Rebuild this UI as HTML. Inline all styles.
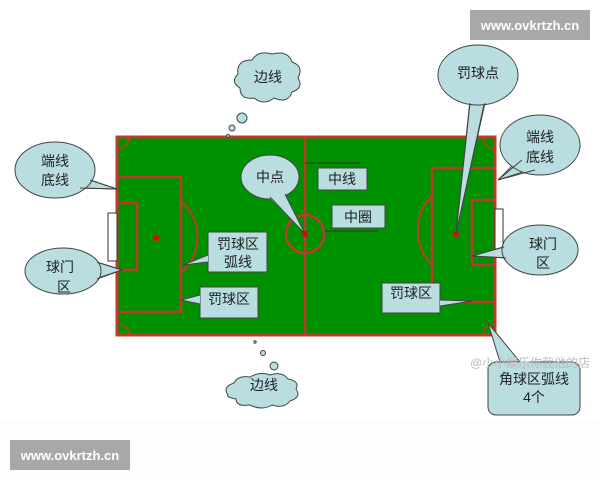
<!DOCTYPE html>
<html><head><meta charset="utf-8"><style>
body{margin:0;background:#fff;width:600px;height:480px;overflow:hidden}
text{font-family:"Liberation Sans","Noto Sans CJK SC",sans-serif;font-size:14px;fill:#222}
</style></head><body>
<svg width="600" height="480" xmlns="http://www.w3.org/2000/svg">
<rect x="0" y="420" width="600" height="60" fill="#fdfdfd"/>
<rect x="117" y="137" width="378" height="198" fill="#009100" stroke="#c0392b" stroke-width="3"/>
<line x1="305" y1="137" x2="305" y2="335" stroke="#c0392b" stroke-width="2.5"/>
<circle cx="305" cy="234" r="19" fill="none" stroke="#c0392b" stroke-width="2.5"/>
<circle cx="305" cy="234" r="3" fill="#e00"/>
<rect x="117" y="177" width="64" height="135" fill="none" stroke="#c0392b" stroke-width="2.5"/>
<rect x="117" y="203" width="20" height="67" fill="none" stroke="#c0392b" stroke-width="2.5"/>
<rect x="108" y="213" width="9" height="48" fill="#fff" stroke="#333" stroke-width="1"/>
<path d="M181 202 A32 40 0 0 1 181 272" fill="none" stroke="#c0392b" stroke-width="2"/>
<circle cx="156" cy="238" r="3" fill="#e00"/>
<rect x="432" y="168" width="63" height="134" fill="none" stroke="#c0392b" stroke-width="2.5"/>
<rect x="472" y="200" width="23" height="65" fill="none" stroke="#c0392b" stroke-width="2.5"/>
<rect x="495" y="209" width="8" height="42" fill="#fff" stroke="#333" stroke-width="1"/>
<path d="M432 196 A30 40 0 0 0 432 264" fill="none" stroke="#c0392b" stroke-width="2"/>
<circle cx="456" cy="234" r="3" fill="#e00"/>
<g fill="none" stroke="#c0392b" stroke-width="1.5">
<path d="M117 149 A12 12 0 0 0 129 137"/><path d="M117 323 A12 12 0 0 1 129 335"/>
<path d="M483 137 A12 12 0 0 0 495 149"/><path d="M483 335 A12 12 0 0 1 495 323"/></g>
<g fill="#b9dde0" stroke="#444" stroke-width="1">
<path d="M80 188 L117 189 L90 180 Z"/>
<ellipse cx="55" cy="170" rx="40" ry="28"/>
<path d="M80 188 L117 189 L90 180" fill="none"/>
<path d="M90 260 L122 270 L92 280 Z"/>
<ellipse cx="63" cy="271" rx="38" ry="23"/>
<path d="M97 262 L122 270 L97 279" fill="none"/>
<ellipse cx="270" cy="177" rx="29" ry="22"/>
<path d="M270 198 L305 234 L285 195 Z" stroke="none"/>
<path d="M270 197 L305 234 L285 194" fill="none"/>
<path d="M470 100 L456 234 L485 100 Z"/>
<ellipse cx="478" cy="75" rx="40" ry="30"/>
<path d="M470 103 L456 234 L485 103" fill="none"/>
<path d="M520 158 L498 180 L535 168 Z"/>
<ellipse cx="540" cy="145" rx="40" ry="30"/>
<path d="M522 160 L498 180 L535 170" fill="none"/>
<path d="M510 245 L472 256 L510 258 Z"/>
<ellipse cx="540" cy="250" rx="38" ry="25"/>
<path d="M504 247 L472 256 L506 258" fill="none"/>
<rect x="318" y="168" width="49" height="22"/>
<rect x="332" y="205" width="53" height="23"/>
<rect x="208" y="232" width="59" height="40"/>
<path d="M208 255 L183 265 L208 262"/>
<rect x="200" y="287" width="58" height="31"/>
<path d="M200 295 L181 300 L200 304"/>
<rect x="382" y="283" width="58" height="30"/>
<path d="M440 300 L472 301 L440 306"/>
<path d="M500 362 L488 323 L520 362 Z"/>
<rect x="488" y="362" width="92" height="53" rx="8"/>
<path d="M238 74 q-2-14 14-14 q6-10 20-6 q16-4 20 8 q12 4 6 16 q6 10-6 14 q-4 12-18 6 q-10 8-20 0 q-14 2-14-10 q-10-6-2-14z"/>
<path d="M228 395 q-6-8 6-12 q4-8 16-6 q10-6 20-2 q12-4 18 4 q12 2 8 10 q6 8-6 12 q-6 8-18 4 q-10 6-22 0 q-14 2-14-6 q-10-2-8-4z"/>
<circle cx="242" cy="118" r="5"/><circle cx="232" cy="128" r="3"/><circle cx="228" cy="136" r="1.5"/>
<circle cx="274" cy="366" r="4"/><circle cx="263" cy="353" r="2.5"/><circle cx="255" cy="342" r="1.2"/>
</g>
<line x1="305" y1="163" x2="360" y2="163" stroke="#333" stroke-width="1"/>
<line x1="325" y1="231" x2="378" y2="231" stroke="#333" stroke-width="1"/>
<text x="268" y="82" text-anchor="middle">边线</text>
<text x="55" y="166" text-anchor="middle">端线</text><text x="55" y="185" text-anchor="middle">底线</text>
<text x="60" y="272" text-anchor="middle">球门</text><text x="64" y="292" text-anchor="middle">区</text>
<text x="270" y="182" text-anchor="middle">中点</text>
<text x="342" y="184" text-anchor="middle">中线</text>
<text x="358" y="222" text-anchor="middle">中圈</text>
<text x="238" y="249" text-anchor="middle">罚球区</text><text x="238" y="267" text-anchor="middle">弧线</text>
<text x="229" y="304" text-anchor="middle">罚球区</text>
<text x="411" y="298" text-anchor="middle">罚球区</text>
<text x="478" y="78" text-anchor="middle">罚球点</text>
<text x="540" y="142" text-anchor="middle">端线</text><text x="540" y="162" text-anchor="middle">底线</text>
<text x="543" y="249" text-anchor="middle">球门</text><text x="543" y="268" text-anchor="middle">区</text>
<text x="264" y="390" text-anchor="middle">边线</text>
<text x="534" y="384" text-anchor="middle">角球区弧线</text><text x="534" y="402" text-anchor="middle">4个</text>
<text x="470" y="367" style="font-size:12px;fill:#bbb">@小小娱乐你我他的店</text>
<rect x="470" y="10" width="120" height="30" fill="#a8a8a8"/>
<text x="530" y="30" text-anchor="middle" style="fill:#fff;font-size:13px;font-weight:bold">www.ovkrtzh.cn</text>
<rect x="10" y="440" width="120" height="30" fill="#a8a8a8"/>
<text x="70" y="460" text-anchor="middle" style="fill:#fff;font-size:13px;font-weight:bold">www.ovkrtzh.cn</text>
</svg>
</body></html>
